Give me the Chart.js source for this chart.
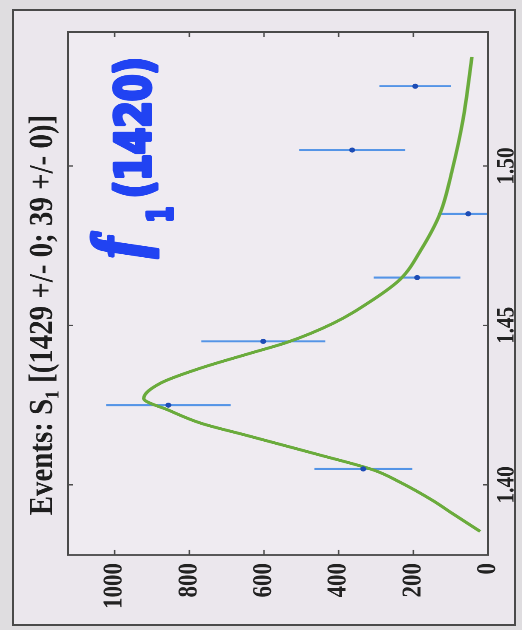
<!DOCTYPE html>
<html><head><meta charset="utf-8">
<script src="https://cdn.jsdelivr.net/npm/chart.js@4.4.1/dist/chart.umd.min.js"></script>
<style>
html,body{margin:0;padding:0;width:522px;height:630px;overflow:hidden;background:#dfdde0;}
#frame{position:absolute;left:12px;top:9px;width:500px;height:613px;border:2px solid #4a4a4a;background:#ebe7ed;}
#wrap{position:absolute;left:0;top:0;width:741px;height:522px;transform-origin:0 0;transform:translate(0px,630px) rotate(-90deg) scaleX(0.85);}
</style></head><body>
<div id="frame"></div>
<div id="wrap"><canvas id="c" width="741" height="522"></canvas></div>
<script>
// ---- data ----
const massBins    = [1.405, 1.425, 1.445, 1.465, 1.485, 1.505, 1.525];
const eventCounts = [334, 856, 602, 190, 53, 364, 195];
const eventErrors = [131, 167, 166, 116, 81, 142, 96];

const fitMass   = [1.3854, 1.3910, 1.3951, 1.4008, 1.4046, 1.4096, 1.4124, 1.4155, 1.4193, 1.4234, 1.4271, 1.4319, 1.4366, 1.4413, 1.4447, 1.4507, 1.4579, 1.4645, 1.4736, 1.4852, 1.4987, 1.5145, 1.5342];
const fitEvents = [21, 95, 148, 235, 305, 458, 547, 646, 768, 855, 922, 877, 770, 636, 538, 414, 310, 235, 180, 128, 96, 67, 43];

const massTicks = [1.40, 1.45, 1.50];
const massTickLabels = ['1.40', '1.45', '1.50'];
const eventTicks = [0, 200, 400, 600, 800, 1000];
const eventTickLabels = ['0', '200', '400', '600', '800', '1000'];

const titleText = 'Events: S\u2081 [(1429 +/- 0; 39 +/- 0)]';
const noteMain = 'f';
const noteSub = '1';
const noteRest = '(1420)';

const serif = '"Liberation Serif", "Times New Roman", serif';

const decorPlugin = {
  id: 'decor',
  beforeDraw(chart) {
    const {ctx, chartArea: a} = chart;
    ctx.save();
    ctx.fillStyle = '#efebf1';
    ctx.fillRect(a.left, a.top, a.right - a.left, a.bottom - a.top);
    ctx.restore();
  },
  beforeDatasetsDraw(chart) {
    const {ctx, chartArea: a, scales: {x, y}} = chart;
    ctx.save();
    ctx.beginPath();
    ctx.rect(a.left, a.top, a.right - a.left, a.bottom - a.top);
    ctx.clip();
    ctx.strokeStyle = '#5494e6';
    ctx.lineWidth = 2.4;
    massBins.forEach((m, i) => {
      const px = x.getPixelForValue(m);
      const y1 = y.getPixelForValue(eventCounts[i] - eventErrors[i]);
      const y2 = y.getPixelForValue(eventCounts[i] + eventErrors[i]);
      ctx.beginPath();
      ctx.moveTo(px, y1);
      ctx.lineTo(px, y2);
      ctx.stroke();
    });
    ctx.restore();
  },
  afterDatasetsDraw(chart) {
    const {ctx, chartArea: a, scales: {x, y}} = chart;
    ctx.save();
    // inward tick marks on all four sides
    ctx.strokeStyle = '#4a4a4a';
    ctx.lineWidth = 1.5;
    x.ticks.forEach(t => {
      const px = x.getPixelForValue(t.value);
      ctx.beginPath();
      ctx.moveTo(px, a.bottom); ctx.lineTo(px, a.bottom - 5);
      ctx.moveTo(px, a.top); ctx.lineTo(px, a.top + 5);
      ctx.stroke();
    });
    y.ticks.forEach(t => {
      const py = y.getPixelForValue(t.value);
      ctx.beginPath();
      ctx.moveTo(a.left, py); ctx.lineTo(a.left + 6, py);
      ctx.moveTo(a.right, py); ctx.lineTo(a.right - 6, py);
      ctx.stroke();
    });
    // plot frame
    ctx.lineWidth = 2;
    ctx.strokeRect(a.left, a.top, a.right - a.left, a.bottom - a.top);
    // handwritten note
    ctx.fillStyle = '#2143f2';
    ctx.strokeStyle = '#2143f2';
    ctx.lineJoin = 'round';
    ctx.lineCap = 'round';
    ctx.lineWidth = 4;
    ctx.textBaseline = 'alphabetic';
    ctx.textAlign = 'left';
    ctx.font = 'bold italic 72px ' + serif;
    ctx.fillText(noteMain, 438, 142, 48);
    ctx.strokeText(noteMain, 438, 142, 48);
    ctx.font = 'bold 34px "DejaVu Sans", sans-serif';
    ctx.fillText(noteSub, 480, 172, 18);
    ctx.strokeText(noteSub, 480, 172, 18);
    ctx.font = 'bold 48px "DejaVu Sans", sans-serif';
    ctx.fillText(noteRest, 508, 150, 166);
    ctx.strokeText(noteRest, 508, 150, 166);
    ctx.restore();
  }
};

new Chart(document.getElementById('c'), {
  type: 'scatter',
  data: {
    datasets: [
      {
        label: 'data',
        data: massBins.map((m, i) => ({x: m, y: eventCounts[i]})),
        pointRadius: 3,
        pointBackgroundColor: '#1d4cb5',
        pointBorderWidth: 0,
        showLine: false
      },
      {
        label: 'fit',
        data: fitMass.map((m, i) => ({x: m, y: fitEvents[i]})),
        showLine: true,
        pointRadius: 0,
        borderColor: '#6aab3c',
        borderWidth: 3.5,
        cubicInterpolationMode: 'monotone',
        fill: false
      }
    ]
  },
  options: {
    responsive: false,
    animation: false,
    devicePixelRatio: 2,
    layout: {padding: {left: 10, right: 10, top: 22.6, bottom: 0}},
    plugins: {
      legend: {display: false},
      tooltip: {enabled: false},
      title: {
        display: true,
        text: titleText,
        color: '#1e1e1e',
        font: {family: serif, size: 34, weight: 'bold', lineHeight: 1.2},
        padding: {top: 0, bottom: 4.6}
      }
    },
    scales: {
      x: {
        type: 'linear',
        min: 1.378,
        max: 1.542,
        afterBuildTicks: s => { s.ticks = massTicks.map(v => ({value: v})); },
        afterFit: s => { s.height = 34; },
        grid: {display: false, drawTicks: false},
        border: {display: false},
        ticks: {
          padding: 4, autoSkip: false, maxRotation: 0, color: '#222',
          font: {family: serif, size: 25, weight: 'bold'},
          callback: (v, i) => massTickLabels[i]
        }
      },
      y: {
        type: 'linear',
        position: 'left',
        min: 0,
        max: 1125,
        afterBuildTicks: s => { s.ticks = eventTicks.map(v => ({value: v})); },
        afterFit: s => { s.width = 78.2; },
        grid: {display: false, drawTicks: false},
        border: {display: false},
        ticks: {
          padding: 9.4, autoSkip: false, color: '#222',
          font: {family: serif, size: 27, weight: 'bold'},
          callback: (v, i) => eventTickLabels[i]
        }
      },
      yRight: {
        type: 'linear',
        position: 'right',
        min: 0,
        max: 1125,
        afterFit: s => { s.width = 27.5; },
        grid: {display: false, drawTicks: false},
        border: {display: false},
        ticks: {display: false}
      }
    }
  },
  plugins: [decorPlugin]
});
</script>
</body></html>
